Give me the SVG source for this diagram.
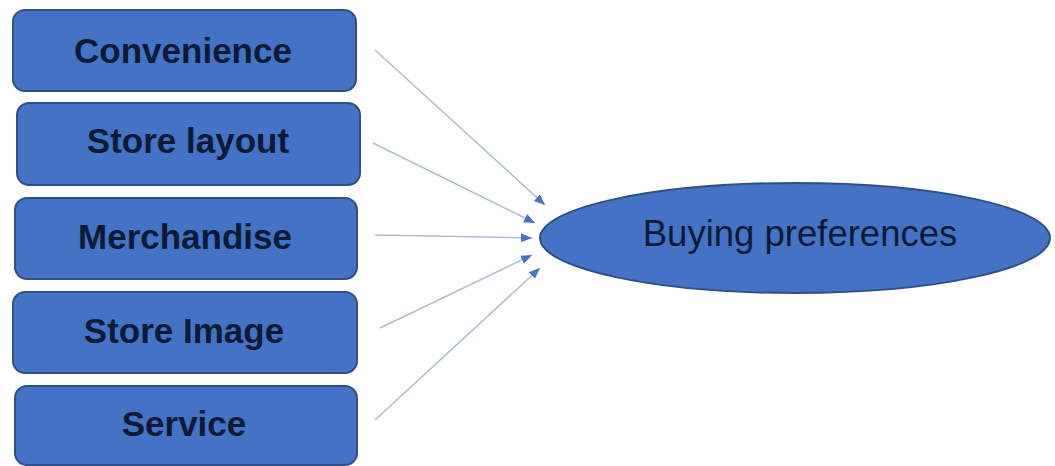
<svg xmlns="http://www.w3.org/2000/svg" width="1055" height="466" viewBox="0 0 1055 466">
  <style>
    .box { fill: #4472C4; stroke: #2F4F86; stroke-width: 2; }
    .lbl { font-family: "Liberation Sans", Arial, sans-serif; font-weight: bold; font-size: 35px; fill: #0D1A33; text-anchor: middle; }
    .ell { fill: #4472C4; stroke: #2F4F86; stroke-width: 2; }
    .elbl { font-family: "Liberation Sans", Arial, sans-serif; font-size: 36.5px; fill: #0D1A33; text-anchor: middle; }
    .conn { stroke: #AEBBD6; stroke-width: 1.5; fill: none; marker-end: url(#arr); }
  </style>
  <defs>
    <marker id="arr" markerUnits="userSpaceOnUse" markerWidth="12" markerHeight="10" refX="11" refY="4.5" orient="auto">
      <path d="M0,0 L11,4.5 L0,9 z" fill="#4472C4"/>
    </marker>
  </defs>
  <rect width="1055" height="466" fill="#FFFFFF"/>
  <g id="n-convenience">
    <rect class="box" x="13" y="10" width="343" height="81" rx="12"/>
    <text class="lbl" x="183" y="63">Convenience</text>
  </g>
  <g id="n-store-layout">
    <rect class="box" x="17" y="103" width="343" height="82" rx="12"/>
    <text class="lbl" x="188" y="153">Store layout</text>
  </g>
  <g id="n-merchandise">
    <rect class="box" x="15" y="198" width="342" height="81" rx="12"/>
    <text class="lbl" x="185" y="249">Merchandise</text>
  </g>
  <g id="n-store-image">
    <rect class="box" x="13" y="292" width="344" height="81" rx="12"/>
    <text class="lbl" x="184" y="343">Store Image</text>
  </g>
  <g id="n-service">
    <rect class="box" x="15" y="386" width="342" height="79" rx="12"/>
    <text class="lbl" x="184" y="436">Service</text>
  </g>
  <g id="n-buying">
    <ellipse class="ell" cx="795" cy="238" rx="255" ry="55"/>
    <text class="elbl" x="800" y="246">Buying preferences</text>
  </g>
  <g id="connectors">
    <line class="conn" x1="375" y1="50" x2="545" y2="205"/>
    <line class="conn" x1="373" y1="143" x2="535" y2="223"/>
    <line class="conn" x1="375" y1="235" x2="532" y2="238"/>
    <line class="conn" x1="380" y1="328" x2="532" y2="255"/>
    <line class="conn" x1="375" y1="420" x2="540" y2="268"/>
  </g>
</svg>
